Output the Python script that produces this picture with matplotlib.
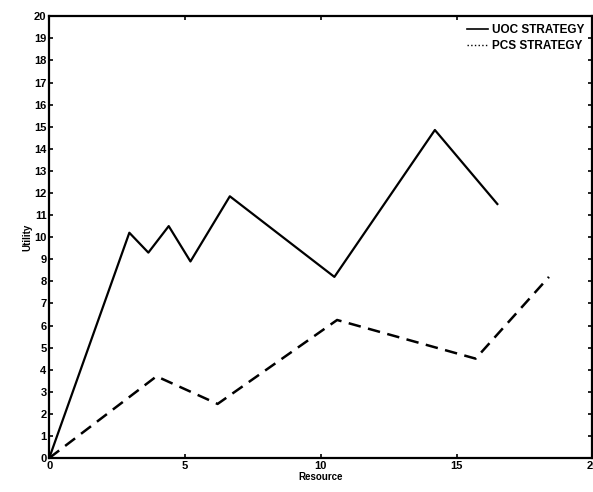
import matplotlib
matplotlib.use("Agg")
import matplotlib.pyplot as plt
from matplotlib.lines import Line2D

# UOC strategy
uoc_x = [0, 2.95, 3.65, 4.4, 5.2, 6.65, 10.5, 14.2, 16.5]
uoc_y = [0, 10.2, 9.3, 10.5, 8.9, 11.85, 8.2, 14.85, 11.5]

# PCS strategy
pcs_x = [0, 3.95, 6.2, 10.6, 15.7, 18.4]
pcs_y = [0, 3.7, 2.45, 6.25, 4.5, 8.2]

plt.rcParams['font.family'] = ['Liberation Sans', 'DejaVu Sans']

fig = plt.figure(figsize=(5.93, 4.92), dpi=100)
ax = fig.add_axes([0.083, 0.069, 0.916, 0.898])

ax.plot(uoc_x, uoc_y, color='black', lw=1.6)
ax.plot(pcs_x, pcs_y, color='black', lw=1.8, ls=(0, (5, 3)))

ax.set_xlim(0, 20)
ax.set_ylim(0, 20)
ax.set_xticks([0, 5, 10, 15, 20])
ax.set_yticks(range(0, 21))
ax.tick_params(direction='in', length=3, width=1.2, labelsize=8,
               top=True, right=True, pad=2)
for lab in ax.get_xticklabels() + ax.get_yticklabels():
    lab.set_fontweight('bold')
for s in ax.spines.values():
    s.set_linewidth(1.6)

ax.set_xlabel('Resource', fontsize=7, fontweight='bold', labelpad=1)
ax.set_ylabel('Utility', fontsize=7, fontweight='bold', labelpad=1)

handles = [Line2D([], [], color='black', lw=1.2),
           Line2D([], [], color='black', lw=1.0, ls=':')]
ax.legend(handles, ['UOC STRATEGY', 'PCS STRATEGY'], loc='upper right',
          frameon=False, handlelength=1.8, handletextpad=0.3,
          prop={'size': 8.5, 'weight': 'bold'}, borderaxespad=0.3,
          labelspacing=0.3)

fig.savefig('out.png', dpi=100)
